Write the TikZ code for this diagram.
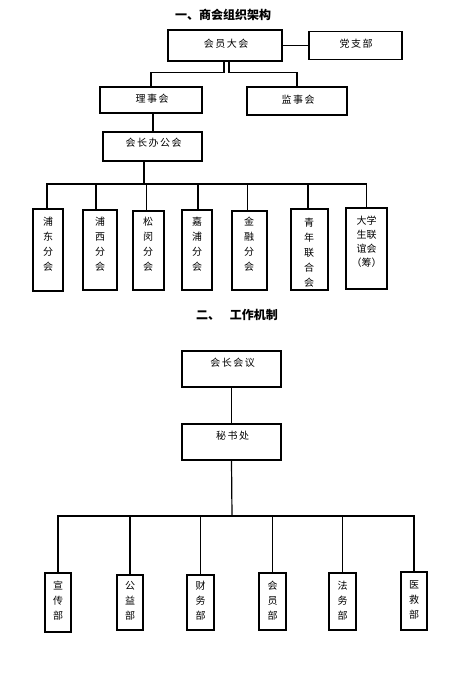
\documentclass[tikz,border=0pt]{standalone}
\usepackage{fontspec}
\newfontfamily\cjk[LetterSpace=15]{Noto Sans CJK SC}
\newfontfamily\cjkv{Noto Sans CJK SC}
\begin{document}
\begin{tikzpicture}[x=1pt,y=-1pt,
  box/.style={draw, line width=1.2pt, inner sep=0pt},
  vt/.style={font=\cjkv\fontsize{10}{15}\selectfont, align=center, inner sep=0pt},
  vt2/.style={font=\cjkv\fontsize{10}{14}\selectfont, align=center, inner sep=0pt},
  ht/.style={font=\cjk\fontsize{10}{12}\selectfont, inner sep=0pt},
  ttl/.style={font=\cjkv\bfseries\fontsize{12}{14}\selectfont, inner sep=0pt},
  ln/.style={line width=1.2pt}]
\useasboundingbox[fill=white] (0,0) rectangle (452,682);

% ---------- section 1 ----------
\node[ttl] (t1) at (223,15) {一、商会组织架构};

\node[box, minimum width=114pt, minimum height=31pt] (hy) at (225,45.5) {};
\node[ht] (hyt) at (226,44) {会员大会};
\node[box, minimum width=93pt, minimum height=28pt] (dzb) at (355.5,45.5) {};
\node[ht] (dzbt) at (356,44) {党支部};
\draw[ln] (hy.east) -- (dzb.west);

\node[box, minimum width=102pt, minimum height=26pt] (ls) at (151,100) {};
\node[ht] (lst) at (152,99) {理事会};
\node[box, minimum width=100pt, minimum height=28pt] (js) at (297,101) {};
\node[ht] (jst) at (298,100) {监事会};

\draw[ln] ([xshift=-1pt]hy.south) |- ([yshift=14pt]ls.north) -- (ls.north);
\draw[ln] ([xshift=4pt]hy.south) |- ([yshift=14pt]js.north) -- (js.north);

\node[box, minimum width=99pt, minimum height=29pt] (hz) at (152.5,146.5) {};
\node[ht] (hzt) at (153.5,143) {会长办公会};
\draw[ln] ([xshift=2pt]ls.south) -- ([xshift=2pt]ls.south |- hz.north);

\coordinate (b1) at (144,184);
\draw[ln] ([xshift=-8.5pt]hz.south) -- (b1);

\node[box, minimum width=30pt, minimum height=82pt] (pd) at (48,250) {};
\node[vt] (pdt) at (48,244.5) {浦\\东\\分\\会};
\node[box, minimum width=34pt, minimum height=80pt] (px) at (100,250) {};
\node[vt] (pxt) at (100,244.5) {浦\\西\\分\\会};
\node[box, minimum width=31pt, minimum height=79pt] (sm) at (148.5,250.5) {};
\node[vt] (smt) at (148,244.5) {松\\闵\\分\\会};
\node[box, minimum width=30pt, minimum height=80pt] (jp) at (197,250) {};
\node[vt] (jpt) at (197,244.5) {嘉\\浦\\分\\会};
\node[box, minimum width=35pt, minimum height=79pt] (jr) at (249.5,250.5) {};
\node[vt] (jrt) at (249,244.5) {金\\融\\分\\会};
\node[box, minimum width=37pt, minimum height=81pt] (qn) at (309.5,249.5) {};
\node[vt] (qnt) at (309,252.5) {青\\年\\联\\合\\会};
\node[box, minimum width=41pt, minimum height=81pt] (dx) at (366.5,248.5) {};
\node[vt2] (dxt) at (366.5,242) {大学\\生联\\谊会\\（筹）};

\draw[ln] (b1) -| ([xshift=-1pt]pd.north);
\draw[ln] (b1) -| ([xshift=-4pt]px.north);
\draw[ln] (b1) -| ([xshift=-2pt]sm.north);
\draw[ln] (b1) -| ([xshift=1pt]jp.north);
\draw[ln] (b1) -| ([xshift=-2pt]jr.north);
\draw[ln] (b1) -| ([xshift=-1.5pt]qn.north);
\draw[ln] (b1) -| (dx.north);

% ---------- section 2 ----------
\node[ttl] (t2) at (237,315) {二、\hspace{10pt}工作机制};

\node[box, minimum width=99pt, minimum height=36pt] (hyi) at (231.5,369) {};
\node[ht] (hyit) at (232.5,363) {会长会议};
\node[box, minimum width=99pt, minimum height=36pt] (msc) at (231.5,442) {};
\node[ht] (msct) at (232.5,436) {秘书处};
\draw[ln] (hyi.south) -- (msc.north);

\coordinate (b2) at (232,516);
\draw[ln] (msc.south) -- (b2);

\node[box, minimum width=26pt, minimum height=59pt] (xc) at (58,602.5) {};
\node[vt] (xct) at (58,600.5) {宣\\传\\部};
\node[box, minimum width=26pt, minimum height=55pt] (gy) at (130,602.5) {};
\node[vt] (gyt) at (130,600.5) {公\\益\\部};
\node[box, minimum width=27pt, minimum height=55pt] (cw) at (200.5,602.5) {};
\node[vt] (cwt) at (200.5,600.5) {财\\务\\部};
\node[box, minimum width=27pt, minimum height=57pt] (hyb) at (272.5,601.5) {};
\node[vt] (hybt) at (272.5,600.5) {会\\员\\部};
\node[box, minimum width=27pt, minimum height=57pt] (fw) at (342.5,601.5) {};
\node[vt] (fwt) at (342.5,600.5) {法\\务\\部};
\node[box, minimum width=26pt, minimum height=58pt] (yj) at (414,601) {};
\node[vt] (yjt) at (414,600) {医\\救\\部};

\draw[ln] (b2) -| (xc.north);
\draw[ln] (b2) -| (gy.north);
\draw[ln] (b2) -| (cw.north);
\draw[ln] (b2) -| (hyb.north);
\draw[ln] (b2) -| (fw.north);
\draw[ln] (b2) -| (yj.north);
\end{tikzpicture}
\end{document}
